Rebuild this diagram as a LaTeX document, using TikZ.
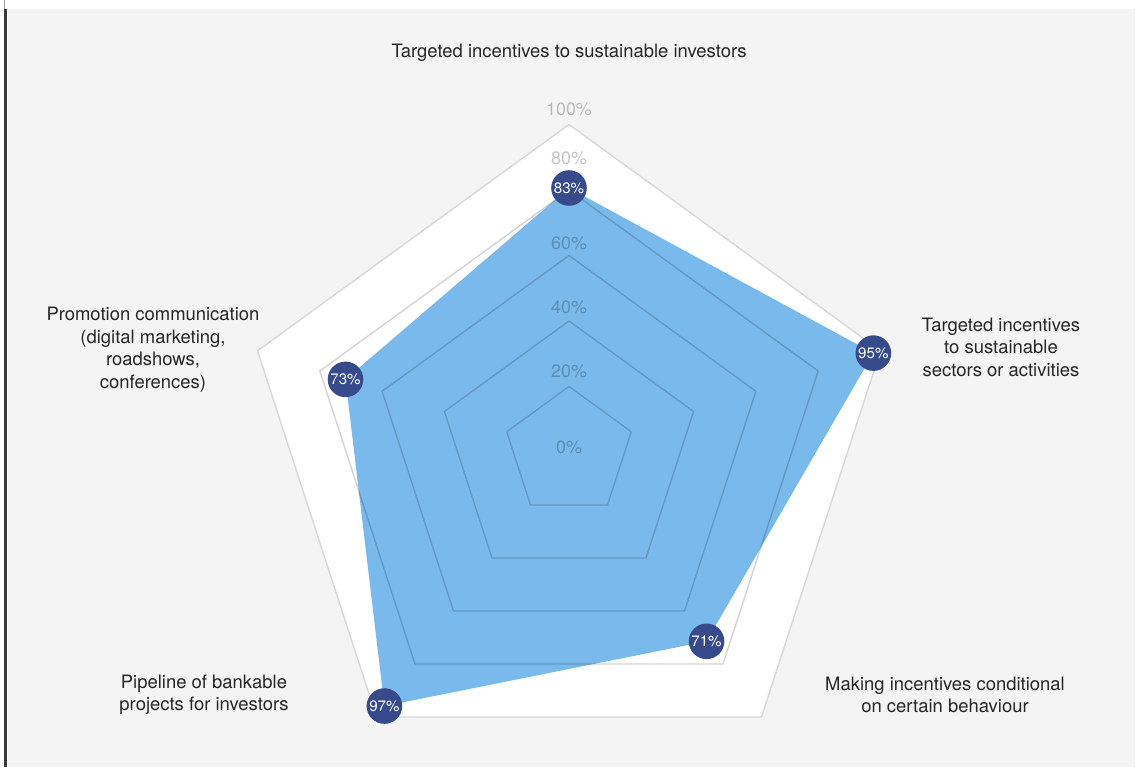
\documentclass[tikz,border=0pt]{standalone}
\usepackage{fontspec}
\setmainfont{TeX Gyre Heros}
\usetikzlibrary{positioning}
\definecolor{bgGray}{HTML}{F4F4F4}
\definecolor{areaBlue}{HTML}{79B9EB}
\definecolor{dotNavy}{HTML}{374A8B}
\definecolor{txtDark}{HTML}{262626}

\begin{document}
\begin{tikzpicture}[%
        x=0.02cm, y=0.02cm,
        every node/.style={inner sep=0pt, font=\fontsize{10.5}{12.8}\selectfont, text=txtDark},
        lbl/.style={align=center},
        pct/.style={font=\fontsize{10.2}{12}\selectfont, text=black, text opacity=0.23},
        val/.style={circle, minimum size=0.712cm, fill=dotNavy, text=white, font=\fontsize{8.6}{9}\selectfont},
        grid/.style={draw=black, draw opacity=0.17, line width=0.8pt, line join=round},
        outer/.style={draw=black!15, fill=white, line width=0.8pt, line join=round}
      ]
      % page
      \fill[white] (-569,-315) rectangle (569,452);
      \fill[bgGray] (-561,-315) rectangle (566,443);
      \fill[black!78] (-565,-315) rectangle (-562,443);
      \fill[black!40] (-565,443) rectangle (-564,452);

      \draw[outer] (90:327.5) -- (18:327.5) -- (-54:327.5) -- (-126:327.5) -- (162:327.5) -- cycle;

      % data area
      \coordinate (d0) at (90:264);
      \coordinate (d1) at (18:320);
      \coordinate (d2) at (-54:234);
      \coordinate (d3) at (-126:314);
      \coordinate (d4) at (162:235);
      \fill[areaBlue] (d0) -- (d1) -- (d2) -- (d3) -- (d4) -- cycle;

      \draw[grid] (90:262) -- (18:262) -- (-54:262) -- (-126:262) -- (162:262) -- cycle;
      \draw[grid] (90:196.5) -- (18:196.5) -- (-54:196.5) -- (-126:196.5) -- (162:196.5) -- cycle;
      \draw[grid] (90:131) -- (18:131) -- (-54:131) -- (-126:131) -- (162:131) -- cycle;
      \draw[grid] (90:65.5) -- (18:65.5) -- (-54:65.5) -- (-126:65.5) -- (162:65.5) -- cycle;

      \node [pct] (s100) at (0,343) {100\%};
      \node [pct] (s80) at (0,294) {80\%};
      \node [pct] (s60) at (0,209) {60\%};
      \node [pct] (s40) at (0,145) {40\%};
      \node [pct] (s20) at (0,81) {20\%};
      \node [pct] (s0) at (0,5) {0\%};

      \node [val] (v0) at (d0) {83\%};
      \node [val] (v1) at (d1) {95\%};
      \node [val] (v2) at (d2) {71\%};
      \node [val] (v3) at (d3) {97\%};
      \node [val] (v4) at (d4) {73\%};

      \node [lbl] (t0) at (0,399) {Targeted incentives to sustainable investors};
      \node [lbl] (t1) at (432,105) {Targeted incentives\\to sustainable\\sectors or activities};
      \node [lbl] (t2) at (376,-243) {Making incentives conditional\\on certain behaviour};
      \node [lbl] (t3) at (-365,-243) {Pipeline of bankable\\projects for investors};
      \node [lbl] (t4) at (-416,102.5) {Promotion communication\\(digital marketing,\\roadshows,\\conferences)};
    \end{tikzpicture}
\end{document}
